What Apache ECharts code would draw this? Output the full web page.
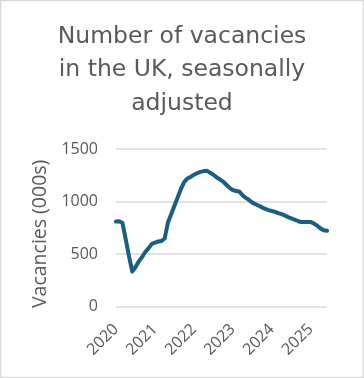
<!DOCTYPE html>
<html>
<head>
<meta charset="utf-8">
<script src="https://cdn.jsdelivr.net/npm/echarts@6/dist/echarts.min.js"></script>
<style>html,body{margin:0;padding:0;background:#fff}#c{width:364px;height:378px}</style>
</head>
<body>
<div id="c"></div>
<script>
// Monthly, Jan 2020 – Jun 2025 (thousands)
var years = ['2020', '2021', '2022', '2023', '2024', '2025'];
var months = ['Jan','Feb','Mar','Apr','May','Jun','Jul','Aug','Sep','Oct','Nov','Dec'];
var vacancies = [
  810, 812, 795, 640, 480, 335, 375, 430, 470, 520, 555, 595,
  610, 620, 625, 650, 800, 880, 960, 1040, 1120, 1185, 1220, 1235,
  1255, 1270, 1282, 1290, 1292, 1275, 1255, 1230, 1210, 1190, 1160, 1130,
  1110, 1100, 1095, 1060, 1035, 1015, 990, 975, 960, 945, 930, 918,
  910, 902, 890, 880, 868, 852, 840, 828, 815, 805, 805, 805,
  805, 790, 770, 745, 728, 722
];
var yTicks = [0, 500, 1000, 1500];

var categories = [];
for (var i = 0; i < vacancies.length; i++) {
  categories.push(years[Math.floor(i / 12)] + '-' + months[i % 12]);
}

var chart = echarts.init(document.getElementById('c'), null, {renderer: 'canvas'});
var font = 'Open Sans';
chart.setOption({
  animation: false,
  backgroundColor: '#ffffff',
  title: {
    text: 'Number of vacancies\nin the UK, seasonally\nadjusted',
    left: 'center',
    top: 15,
    textStyle: {fontFamily: 'DejaVu Sans', fontSize: 23.5, fontWeight: 'normal', color: '#595959', lineHeight: 33.5}
  },
  graphic: [{
    type: 'rect', shape: {x: 0.5, y: 0.5, width: 363, height: 377},
    style: {fill: 'none', stroke: '#d9d9d9', lineWidth: 1.5}, silent: true
  }],
  grid: {left: 116, right: 37, top: 149, bottom: 71.3, containLabel: false},
  xAxis: {
    type: 'category',
    data: categories,
    boundaryGap: false,
    axisLine: {show: false},
    axisTick: {show: false},
    axisLabel: {
      interval: function (idx) { return idx % 12 === 0; },
      formatter: function (v) { return v.split('-')[0]; },
      rotate: 45,
      margin: 20,
      fontFamily: font, fontSize: 16, color: '#595959'
    },
    splitLine: {show: false}
  },
  yAxis: {
    type: 'value',
    min: yTicks[0], max: yTicks[yTicks.length - 1], interval: 500,
    name: 'Vacancies (000s)',
    nameLocation: 'middle',
    nameGap: 62,
    nameTextStyle: {fontFamily: font, fontSize: 19.5, color: '#595959', padding: [0, 12, 0, 0]},
    axisLine: {show: false},
    axisTick: {show: false},
    axisLabel: {margin: 18, fontFamily: font, fontSize: 16, color: '#595959',
      formatter: function (v) { return String(v); }},
    splitLine: {lineStyle: {color: '#d9d9d9', width: 1.5}}
  },
  series: [{
    type: 'line',
    data: vacancies,
    showSymbol: false,
    smooth: false,
    lineStyle: {color: '#185f80', width: 4, cap: 'round', join: 'round'}
  }]
});
</script>
</body>
</html>
